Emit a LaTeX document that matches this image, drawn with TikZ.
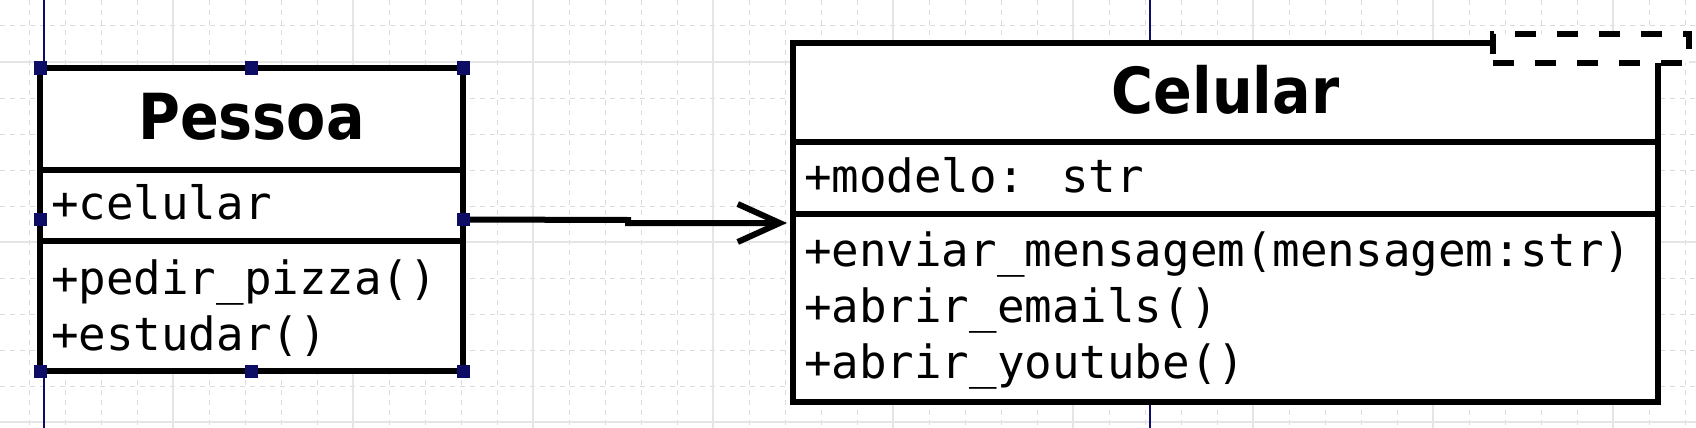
\documentclass[tikz,border=0pt]{standalone}
\usepackage{fontspec}
\usepackage{tikz}
\usetikzlibrary{positioning, arrows.meta, fit}
\newfontfamily\titlefont{DejaVu Sans}[FakeStretch=0.9]
\newfontfamily\memberfont{DejaVu Sans Mono}
\definecolor{umlnavy}{rgb}{0.05, 0.05, 0.40}
\definecolor{gridgray}{gray}{0.86}
\definecolor{majorgray}{gray}{0.9}

\begin{document}
\begin{tikzpicture}[
    x=1pt, y=-1pt,
    every node/.style={outer sep=0pt, inner sep=0pt},
    classhead/.style={draw, fill=white, line width=6pt, text depth=6pt, font=\titlefont\bfseries\fontsize{63.5}{64}\selectfont},
    compart/.style  ={draw, fill=white, line width=6pt},
    member/.style   ={anchor=base west, font=\memberfont\fontsize{45.8}{56}\selectfont},
    tmplbox/.style  ={draw, fill=white, line width=6pt, dash pattern=on 21pt off 21pt},
    handle/.style   ={fill=umlnavy, minimum size=13pt},
    guide/.style    ={draw=umlnavy, line width=1.5pt},
    minorgrid/.style={draw=gridgray, line width=1pt, dash pattern=on 5pt off 5pt},
    majorgrid/.style={draw=majorgray, line width=1.2pt},
    arrow/.style    ={line width=6pt, -{Straight Barb[length=42pt, width=38pt]}, shorten >=6pt}
]
\useasboundingbox (0,0) rectangle (1696,428);
\fill[white] (0,0) rectangle (1696,428);

% Canvas grid and guides
\foreach \gx in {29,65,...,1696} \draw[minorgrid] (\gx,0) -- (\gx,428);
\foreach \gy in {26,62,...,428} \draw[minorgrid] (0,\gy) -- (1696,\gy);
\foreach \gx in {173,353,...,1696} \draw[majorgrid] (\gx,0) -- (\gx,428);
\foreach \gy in {62,242,422} \draw[majorgrid] (0,\gy) -- (1696,\gy);
\draw[guide] (44,0) -- (44,428);
\draw[guide] (1150,0) -- (1150,428);

% Class Pessoa
\node[classhead, minimum width=423pt, minimum height=102pt, anchor=north west] (phead) at (40,68) {Pessoa};
\node[compart, minimum width=423pt, minimum height=71pt, below=0pt of phead] (pattr) {};
\node[compart, minimum width=423pt, minimum height=130pt, below=0pt of pattr] (pmeth) {};
\node[member] (pcel)   at ([shift={(11,49)}]pattr.north west)  {+celular};
\node[member] (ppizza) at ([shift={(11,53)}]pmeth.north west)  {+pedir\_pizza()};
\node[member] (pstudy) at ([shift={(11,109)}]pmeth.north west) {+estudar()};
\node[fit=(phead)(pmeth)] (pessoa) {};

% Class Celular
\node[classhead, minimum width=865pt, minimum height=99pt, anchor=north west] (chead) at (793,43) {Celular};
\node[compart, minimum width=865pt, minimum height=72pt, below=0pt of chead] (cattr) {};
\node[compart, minimum width=865pt, minimum height=188pt, below=0pt of cattr] (cmeth) {};
\node[member] (cmodel) at ([shift={(11,50)}]cattr.north west)  {+modelo: str};
\node[member] (csend)  at ([shift={(11,52)}]cmeth.north west)  {+enviar\_mensagem(mensagem:str)};
\node[member] (cmail)  at ([shift={(11,108)}]cmeth.north west) {+abrir\_emails()};
\node[member] (ctube)  at ([shift={(11,164)}]cmeth.north west) {+abrir\_youtube()};
\node[tmplbox, minimum width=196pt, minimum height=29pt, anchor=north west] (ctmpl) at (1493,34) {};

% Association
\coordinate (kink) at (628,220);
\draw[arrow] (pessoa.east) -- (kink) |- ([yshift=-9pt]cmeth.north west);

% Selection handles
\foreach \a/\n in {north west/1, north/2, north east/3, west/4, east/5, south west/6, south/7, south east/8}
  \node[handle] (hnd\n) at (pessoa.\a) {};

\end{tikzpicture}
\end{document}
